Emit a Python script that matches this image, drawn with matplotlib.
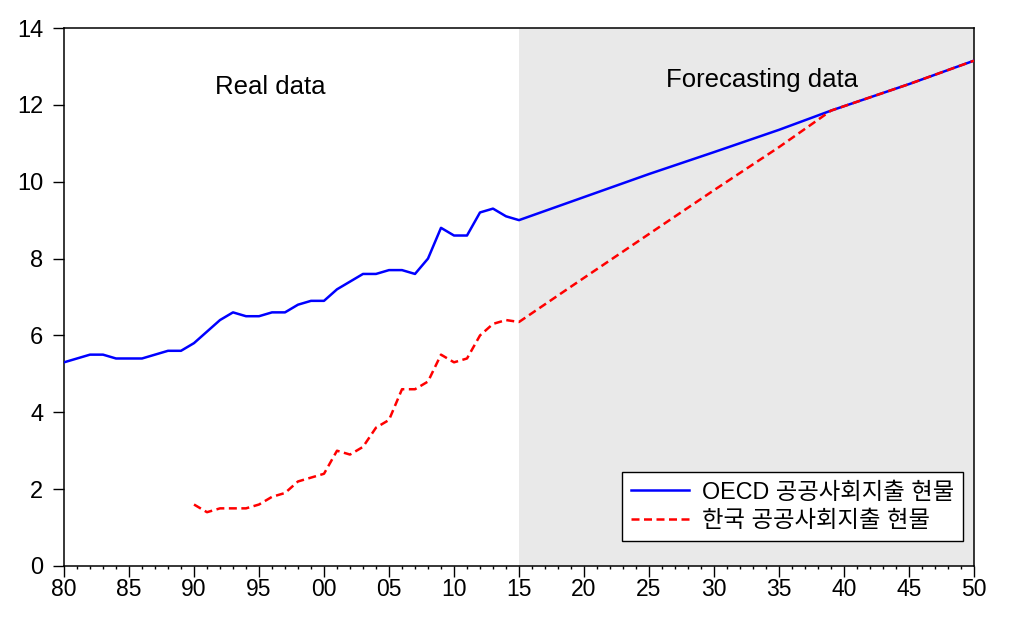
import numpy as np
import matplotlib
matplotlib.use("Agg")
import matplotlib.pyplot as plt
from matplotlib.ticker import MultipleLocator, FuncFormatter
from matplotlib.font_manager import FontProperties

# 실제 데이터 (1980-2015)
oecd_years = list(range(1980, 2016))
oecd_real = [5.3, 5.4, 5.5, 5.5, 5.4, 5.4, 5.4, 5.5, 5.6, 5.6,
             5.8, 6.1, 6.4, 6.6, 6.5, 6.5, 6.6, 6.6, 6.8, 6.9,
             6.9, 7.2, 7.4, 7.6, 7.6, 7.7, 7.7, 7.6, 8.0, 8.8,
             8.6, 8.6, 9.2, 9.3, 9.1, 9.0]

korea_years = list(range(1990, 2016))
korea_real = [1.6, 1.4, 1.5, 1.5, 1.5, 1.6, 1.8, 1.9, 2.2, 2.3,
              2.4, 3.0, 2.9, 3.1, 3.6, 3.8, 4.6, 4.6, 4.8, 5.5,
              5.3, 5.4, 6.0, 6.3, 6.4, 6.35]

# 예측 데이터 (2015-2050)
fc_years = [2015, 2019, 2025, 2030, 2035, 2039, 2045, 2050]
oecd_fc = [9.0, 9.48, 10.2, 10.77, 11.35, 11.85, 12.54, 13.15]
korea_fc = [6.35, 7.27, 8.64, 9.78, 10.9, 11.85, 12.54, 13.15]

labels = ["OECD 공공사회지출 현물", "한국 공공사회지출 현물"]

plt.rcParams["font.family"] = ["Liberation Sans", "Noto Sans CJK KR"]

fig = plt.figure(figsize=(10.35, 6.35), dpi=100)
ax = fig.add_axes([64 / 1035, 69 / 635, 910 / 1035, 538 / 635])

ax.axvspan(2015, 2050, color="#e9e9e9", zorder=0, lw=0)

oecd_x = oecd_years + fc_years[1:]
oecd_y = oecd_real + oecd_fc[1:]
korea_x = korea_years + fc_years[1:]
korea_y = korea_real + korea_fc[1:]

ax.plot(oecd_x, oecd_y, color="#0000ff", lw=1.8, label=labels[0], zorder=3)
ax.plot(korea_x, korea_y, color="#ff0000", lw=1.8, dashes=(3.2, 1.8),
        label=labels[1], zorder=4)

ax.set_xlim(1980, 2050)
ax.set_ylim(0, 14)

ax.xaxis.set_major_locator(MultipleLocator(5))
ax.xaxis.set_minor_locator(MultipleLocator(1))
ax.xaxis.set_major_formatter(FuncFormatter(lambda v, p: f"{int(round(v)) % 100:02d}"))
ax.yaxis.set_major_locator(MultipleLocator(2))

ax.tick_params(axis="x", which="major", direction="out", length=8, width=1,
               pad=1, labelsize=16.5)
ax.tick_params(axis="x", which="minor", direction="out", length=2.5, width=1)
ax.tick_params(axis="y", which="major", direction="out", length=8, width=1,
               pad=7, labelsize=17)

for s in ax.spines.values():
    s.set_linewidth(1.1)
    s.set_color("black")

ax.text(1995.9, 12.46, "Real data", ha="center", va="center", fontsize=18.5)
ax.text(2033.7, 12.65, "Forecasting data", ha="center", va="center", fontsize=18.5)

leg = ax.legend(loc="upper left", bbox_to_anchor=(0.613, 0.1753),
                borderaxespad=0, fancybox=False, framealpha=1,
                edgecolor="black", facecolor="white", handlelength=2.5,
                handletextpad=0.55, labelspacing=0.22, borderpad=0.38,
                prop=FontProperties(family=["Liberation Sans", "Noto Sans CJK KR"], size=16.8))
leg.get_frame().set_linewidth(1.0)

fig.savefig("out.png", dpi=100)
